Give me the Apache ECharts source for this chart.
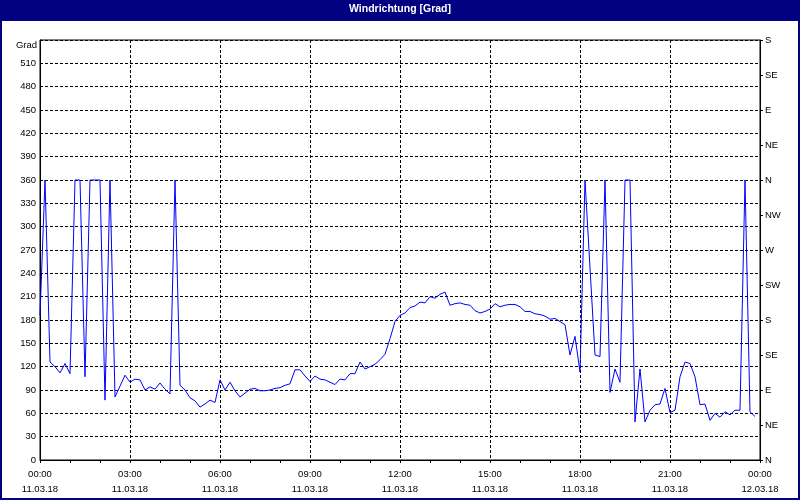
<!DOCTYPE html>
<html>
<head>
<meta charset="utf-8">
<script src="https://cdn.jsdelivr.net/npm/echarts@6/dist/echarts.min.js"></script>
<style>
html,body{margin:0;padding:0;background:#fff;}
#chart{width:800px;height:500px;}
</style>
</head>
<body>
<div id="chart"></div>
<script>
// Wind direction [deg], 10-minute samples starting 11.03.18 00:00
const windDirection = [
  186, 360, 126, 120, 112, 124, 111, 360, 360, 107,
  360, 360, 360, 77, 360, 81, 95, 109, 100, 104,
  103, 90, 94, 91, 99, 91, 85, 360, 96, 90,
  80, 76, 68, 72, 77, 74, 103, 90, 100, 89,
  81, 86, 91, 92, 89, 89, 90, 92, 93, 96,
  98, 116, 116, 108, 101, 108, 104, 103, 100, 97,
  104, 103, 111, 111, 126, 117, 120, 123, 129, 136,
  156, 178, 186, 189, 196, 198, 203, 202, 210, 208,
  213, 216, 199, 201, 202, 200, 199, 192, 189, 191,
  194, 201, 197, 199, 200, 200, 197, 191, 191, 188,
  187, 185, 181, 182, 178, 174, 135, 159, 113, 360,
  247, 135, 133, 360, 87, 117, 100, 360, 360, 49,
  117, 49, 64, 71, 72, 92, 61, 64, 107, 126,
  124, 107, 71, 72, 51, 60, 55, 62, 58, 64,
  64, 360, 62, 56
];
const compassLabels = ['N','NE','E','SE','S','SW','W','NW','N','NE','E','SE','S'];
const dayLabels = ['11.03.18', '12.03.18'];
const titleText = 'Windrichtung [Grad]';
const unitLabel = 'Grad';

// time categories every 10 minutes over 24 h (145 slots incl. end)
const timeCategories = [];
for (let i = 0; i <= 144; i++) {
  const m = i * 10;
  const hh = Math.floor(m / 60) % 24;
  const mm = m % 60;
  const day = i < 144 ? dayLabels[0] : dayLabels[1];
  timeCategories.push((hh < 10 ? '0' : '') + hh + ':' + (mm < 10 ? '0' : '') + mm + '\n' + day);
}

const FONT = 'Liberation Sans, Arial, sans-serif';
const chart = echarts.init(document.getElementById('chart'), null, {renderer: 'canvas'});
chart.setOption({
  animation: false,
  backgroundColor: '#ffffff',
  grid: {left: 40, right: 40, top: 40, bottom: 40, show: true, borderColor: '#000', borderWidth: 1, backgroundColor: 'transparent'},
  graphic: [
    {type: 'rect', shape: {x: 0, y: 0, width: 800, height: 21}, style: {fill: '#000080'}, z: 10},
    {type: 'rect', shape: {x: 1, y: 1, width: 798, height: 498}, style: {fill: 'none', stroke: '#000080', lineWidth: 2}, z: 10},
    {type: 'text', x: 400, y: 9, style: {text: titleText, fill: '#ffffff', font: 'bold 10.5px ' + FONT, textAlign: 'center', textVerticalAlign: 'middle'}, z: 11},
    {type: 'text', x: 37, y: 45, style: {text: unitLabel, fill: '#000', font: '9.5px ' + FONT, textAlign: 'right', textVerticalAlign: 'middle'}, z: 11}
  ],
  xAxis: {
    type: 'category',
    data: timeCategories,
    boundaryGap: false,
    axisLine: {show: true, lineStyle: {color: '#000', width: 1}},
    axisTick: {show: true, interval: 5, length: 3, lineStyle: {color: '#000'}},
    axisLabel: {interval: 17, margin: 7, color: '#000', fontFamily: FONT, fontSize: 9.5, lineHeight: 15},
    splitLine: {show: true, interval: 17, lineStyle: {color: '#000', type: [3, 2], width: 1}}
  },
  yAxis: [
    {
      type: 'value', min: 0, max: 540, interval: 30, position: 'left',
      axisLine: {show: true, lineStyle: {color: '#000'}},
      axisTick: {show: false},
      axisLabel: {margin: 4, color: '#000', fontFamily: FONT, fontSize: 9.5,
        formatter: v => (v === 540 ? '' : String(v))},
      splitLine: {show: true, lineStyle: {color: '#000', type: [3, 2], width: 1}}
    },
    {
      type: 'value', min: 0, max: 540, interval: 45, position: 'right',
      axisLine: {show: true, lineStyle: {color: '#000'}},
      axisTick: {show: true, length: 3, lineStyle: {color: '#000'}},
      axisLabel: {margin: 5, color: '#000', fontFamily: FONT, fontSize: 9.5,
        formatter: v => compassLabels[Math.round(v / 45)]},
      splitLine: {show: false}
    }
  ],
  series: [{
    type: 'line',
    data: windDirection,
    yAxisIndex: 0,
    showSymbol: false,
    symbol: 'none',
    lineStyle: {color: '#0000ff', width: 1},
    emphasis: {disabled: true}
  }]
});
</script>
</body>
</html>
